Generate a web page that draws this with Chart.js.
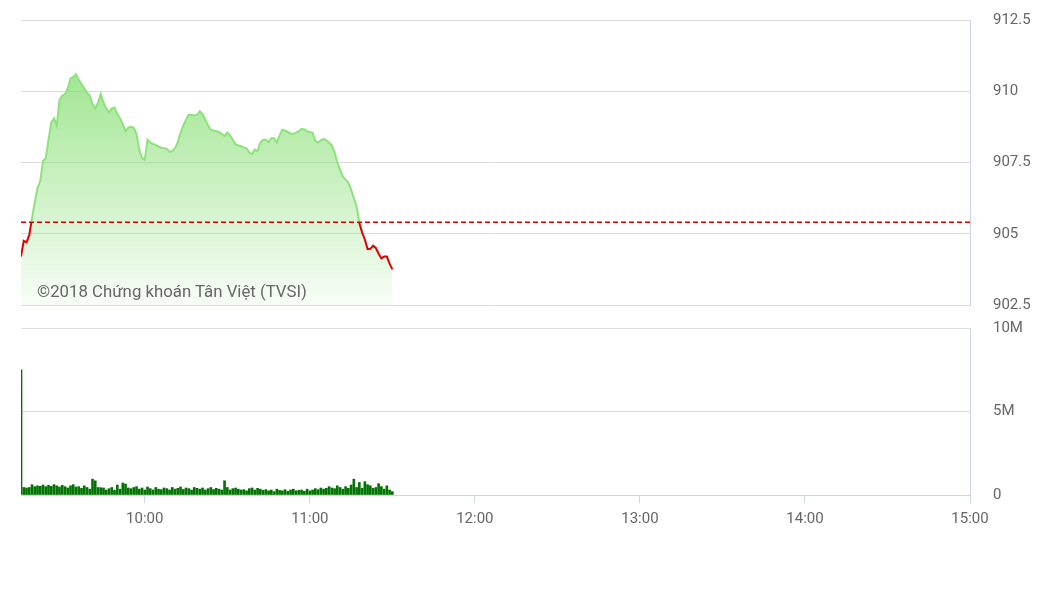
<!DOCTYPE html>
<html>
<head>
<meta charset="utf-8">
<script src="https://cdn.jsdelivr.net/npm/chart.js@4"></script>
<style>
  body { margin: 0; background: #fff; font-family: Roboto, sans-serif; }
  #wrap { position: relative; width: 1057px; height: 594px; overflow: hidden; }
  #priceBox { position: absolute; left: 0; top: -12px; width: 1057px; height: 349px; }
  #volBox { position: absolute; left: 0; top: 296px; width: 1057px; height: 244px; }
  #mark { position: absolute; left: 37px; top: 281px; font-size: 16.8px; color: #666; }
</style>
</head>
<body>
<div id="wrap">
  <div id="priceBox"><canvas id="price"></canvas></div>
  <div id="volBox"><canvas id="vol"></canvas></div>
  <div id="mark">©2018 Chứng khoán Tân Việt (TVSI)</div>
</div>
<script>
// session 09:15 -> 15:00, minutes since midnight
const startMin = 555;
const endMin = 900;
const hourTicks = [600, 660, 720, 780, 840, 900];
const refPrice = 905.4;
const priceTicks = [902.5, 905, 907.5, 910, 912.5];

// one value per minute from 09:15 to 11:30
const prices = [
  904.2, 904.75, 904.7, 904.95, 905.55, 906.1, 906.6, 906.85, 907.55, 907.65,
  908.3, 908.9, 909.05, 908.8, 909.7, 909.85, 909.9, 910.1, 910.45, 910.5,
  910.6, 910.4, 910.25, 910.1, 909.95, 909.85, 909.55, 909.4, 909.6, 909.9,
  909.6, 909.4, 909.25, 909.4, 909.43, 909.2, 909.05, 908.85, 908.6, 908.72,
  908.75, 908.72, 908.5, 907.95, 907.65, 907.6, 908.3, 908.2, 908.15, 908.12,
  908.05, 908.02, 908.0, 907.98, 907.88, 907.9, 908.0, 908.2, 908.55, 908.8,
  909.0, 909.18, 909.17, 909.15, 909.18, 909.3, 909.2, 909.0, 908.8, 908.65,
  908.62, 908.6, 908.57, 908.5, 908.43, 908.55, 908.45, 908.3, 908.13, 908.1,
  908.07, 908.03, 908.0, 907.85, 907.8, 907.95, 907.9, 908.2, 908.3, 908.3,
  908.22, 908.35, 908.35, 908.2, 908.45, 908.65, 908.62, 908.57, 908.52, 908.5,
  908.55, 908.6, 908.68, 908.66, 908.6, 908.57, 908.55, 908.25, 908.2, 908.28,
  908.33, 908.28, 908.2, 908.1, 907.85, 907.5, 907.25, 907.0, 906.9, 906.8,
  906.55, 906.25, 905.95, 905.38, 905.05, 904.8, 904.46, 904.47, 904.58, 904.5,
  904.3, 904.14, 904.2, 904.2, 903.95, 903.75
];

// volume in millions, per minute
const volumes = [
  7.5,
  0.45, 0.42, 0.45, 0.62, 0.5, 0.55, 0.52, 0.6, 0.5, 0.58,
  0.52, 0.62, 0.55, 0.48, 0.58, 0.5, 0.42, 0.55, 0.62, 0.48,
  0.5, 0.4, 0.55, 0.45, 0.35, 0.95, 0.85, 0.45, 0.44, 0.42,
  0.3, 0.38, 0.45, 0.28, 0.6, 0.35, 0.72, 0.66, 0.42, 0.38,
  0.45, 0.5, 0.35, 0.42, 0.3, 0.48, 0.38, 0.3, 0.45, 0.35,
  0.32, 0.42, 0.38, 0.3, 0.45, 0.35, 0.4, 0.48, 0.33, 0.42,
  0.38, 0.3, 0.45, 0.4, 0.35, 0.42, 0.3, 0.38, 0.45, 0.33,
  0.4, 0.35, 0.3, 0.85, 0.45, 0.3, 0.38, 0.42, 0.35, 0.3,
  0.32, 0.25, 0.38, 0.42, 0.3, 0.4, 0.35, 0.28, 0.32, 0.25,
  0.3, 0.2, 0.35, 0.28, 0.25, 0.32, 0.22, 0.3, 0.35, 0.25,
  0.28, 0.3, 0.22, 0.35, 0.25, 0.3, 0.38, 0.32, 0.42, 0.35,
  0.4, 0.5, 0.42, 0.38, 0.55, 0.45, 0.35, 0.5, 0.4, 0.6,
  0.95, 0.45, 0.75, 0.4, 0.8, 0.62, 0.55, 0.4, 0.45, 0.68,
  0.5, 0.35, 0.55, 0.3, 0.2
];

const minutes = prices.map((_, i) => startMin + i);
const fmtTime = v => String(Math.floor(v / 60)).padStart(2, "0") + ":" + String(v % 60).padStart(2, "0");

const axisColor = "#ccd6eb";
const gridColor = "#dcdcdc";
const tickFont = { family: "Roboto", size: 15 };

Chart.defaults.font.family = "Roboto";
Chart.defaults.color = "#666";

function lineColor(context) {
  const chart = context.chart;
  const area = chart.chartArea;
  if (!area) return "#8ee27c";
  const y = chart.scales.y.getPixelForValue(refPrice);
  const stop = Math.min(Math.max((y - area.top) / (area.bottom - area.top), 0), 1);
  const g = chart.ctx.createLinearGradient(0, area.top, 0, area.bottom);
  g.addColorStop(0, "#8ee27c");
  g.addColorStop(stop, "#8ee27c");
  g.addColorStop(stop, "#e00000");
  g.addColorStop(1, "#e00000");
  return g;
}

function fillColor(context) {
  const chart = context.chart;
  const area = chart.chartArea;
  if (!area) return "rgba(130,222,110,0.5)";
  const g = chart.ctx.createLinearGradient(0, area.top, 0, area.bottom);
  g.addColorStop(0, "rgba(130,222,110,0.9)");
  g.addColorStop(1, "rgba(130,222,110,0.06)");
  return g;
}

const xBase = {
  type: "linear",
  min: startMin,
  max: endMin,
  afterBuildTicks: axis => { axis.ticks = hourTicks.map(v => ({ value: v })); }
};

new Chart(document.getElementById("price"), {
  type: "line",
  data: {
    datasets: [
      {
        data: [{ x: startMin, y: refPrice }, { x: endMin, y: refPrice }],
        borderColor: "#d40000",
        borderWidth: 1.5,
        borderDash: [5, 3],
        pointRadius: 0,
        fill: false
      },
      {
        data: minutes.map((m, i) => ({ x: m, y: prices[i] })),
        borderColor: lineColor,
        backgroundColor: fillColor,
        borderWidth: 2,
        pointRadius: 0,
        fill: "start",
        tension: 0
      }
    ]
  },
  options: {
    responsive: true,
    maintainAspectRatio: false,
    animation: false,
    layout: { padding: { left: 21, top: 0, bottom: 0, right: 0 } },
    plugins: { legend: { display: false }, tooltip: { enabled: false } },
    scales: {
      x: Object.assign({}, xBase, { display: false }),
      y: {
        position: "right",
        min: 902.5,
        max: 912.5,
        afterBuildTicks: axis => { axis.ticks = priceTicks.map(v => ({ value: v })); },
        afterFit: axis => { axis.width = 87; },
        grid: { color: gridColor, drawTicks: false },
        border: { display: true, color: axisColor },
        ticks: { padding: 23, font: tickFont, color: "#666" }
      }
    }
  }
});

new Chart(document.getElementById("vol"), {
  type: "bar",
  data: {
    datasets: [{
      data: minutes.map((m, i) => ({ x: m, y: volumes[i] * 1e6 })),
      backgroundColor: "#007400",
      barThickness: 2
    }]
  },
  options: {
    responsive: true,
    maintainAspectRatio: false,
    animation: false,
    layout: { padding: { left: 21, top: 0, bottom: 0, right: 0 } },
    plugins: { legend: { display: false }, tooltip: { enabled: false } },
    scales: {
      x: Object.assign({}, xBase, {
        offset: false,
        afterFit: axis => { axis.height = 45; },
        grid: { offset: false, drawOnChartArea: false, drawTicks: true, tickLength: 8, color: axisColor },
        border: { display: true, color: axisColor },
        ticks: { padding: 7, font: tickFont, color: "#666", maxRotation: 0, callback: v => fmtTime(v) }
      }),
      y: {
        position: "right",
        min: 0,
        max: 10e6,
        afterBuildTicks: axis => { axis.ticks = [0, 5e6, 10e6].map(v => ({ value: v })); },
        afterFit: axis => { axis.width = 87; },
        grid: { color: c => c.tick && c.tick.value === 0 ? "rgba(0,0,0,0)" : gridColor, drawTicks: false },
        border: { display: true, color: axisColor },
        ticks: { padding: 23, font: tickFont, color: "#666", callback: v => v === 0 ? "0" : (v / 1e6) + "M" }
      }
    }
  }
});
</script>
</body>
</html>
